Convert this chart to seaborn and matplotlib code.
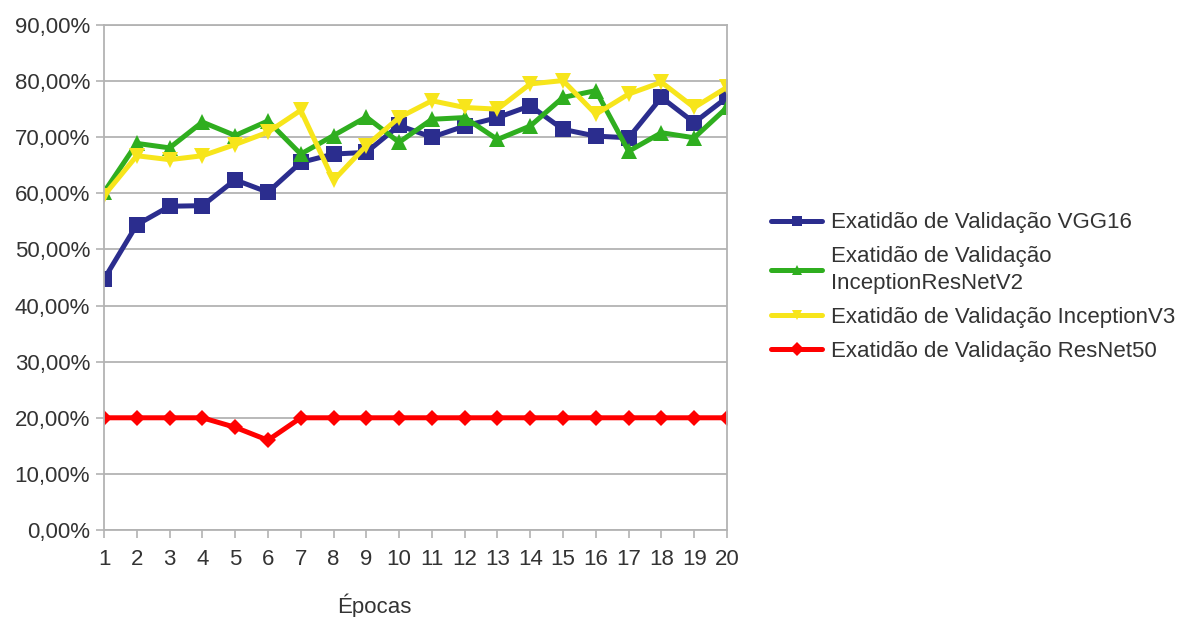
import matplotlib
matplotlib.use("Agg")
import matplotlib.pyplot as plt
import numpy as np
import pandas as pd
import seaborn as sns
from matplotlib.ticker import FuncFormatter, MultipleLocator

# Validation accuracy (%) per epoch for each network
epochs = list(range(1, 21))
vgg16 = [44.7, 54.4, 57.7, 57.8, 62.4, 60.2, 65.5, 67.0, 67.3, 72.1,
         70.0, 72.0, 73.5, 75.6, 71.4, 70.2, 69.9, 77.1, 72.6, 77.1]
inception_resnet_v2 = [60.2, 68.9, 68.1, 72.7, 70.3, 72.9, 67.0, 70.3, 73.6, 69.1,
                       73.2, 73.5, 69.6, 72.0, 77.1, 78.3, 67.5, 70.8, 69.9, 75.3]
inception_v3 = [59.6, 66.7, 66.0, 66.7, 68.7, 70.9, 74.8, 62.3, 68.5, 73.5,
                76.5, 75.3, 75.0, 79.5, 80.1, 74.1, 77.7, 79.8, 75.3, 78.9]
resnet50 = [20.0, 20.0, 20.0, 20.0, 18.3, 16.0, 20.0, 20.0, 20.0, 20.0,
            20.0, 20.0, 20.0, 20.0, 20.0, 20.0, 20.0, 20.0, 20.0, 20.0]

series_names = [
    "Exatidão de Validação VGG16",
    "Exatidão de Validação\nInceptionResNetV2",
    "Exatidão de Validação InceptionV3",
    "Exatidão de Validação ResNet50",
]
series_values = [vgg16, inception_resnet_v2, inception_v3, resnet50]
colors = ["#2b2d8e", "#2fae1f", "#f7e51b", "#ff0000"]
marker_shapes = ["s", "^", "v", "D"]

df = pd.DataFrame({
    "Época": np.tile(epochs, len(series_names)),
    "Exatidão": np.concatenate(series_values),
    "Modelo": np.repeat(series_names, len(epochs)),
})

sns.set_theme(style="white")
plt.rcParams["font.family"] = ["Liberation Sans", "DejaVu Sans"]

fig = plt.figure(figsize=(11.82, 6.17), dpi=100)
ax = fig.add_axes([104 / 1182, 1 - 530 / 617, 623 / 1182, 505 / 617])

sns.lineplot(
    data=df, x="Época", y="Exatidão", hue="Modelo", style="Modelo",
    hue_order=series_names, style_order=series_names,
    palette=dict(zip(series_names, colors)),
    markers=dict(zip(series_names, marker_shapes)),
    dashes=False, linewidth=3.6, markersize=12, markeredgewidth=0,
    ax=ax,
)

# Smaller diamonds for ResNet50
for line in ax.lines:
    if line.get_marker() == "D":
        line.set_markersize(8.5)

ax.set_xlim(1, 20)
ax.set_ylim(0, 90)
ax.set_xticks(epochs)
ax.yaxis.set_major_locator(MultipleLocator(10))
ax.yaxis.set_major_formatter(FuncFormatter(lambda v, _: f"{v:.2f}%".replace(".", ",")))

grid_col = "#b3b3b3"
ax.grid(axis="y", color=grid_col, linewidth=1.3)
ax.grid(axis="x", visible=False)
ax.set_axisbelow(True)
for side in ["left", "bottom", "right", "top"]:
    ax.spines[side].set_visible(True)
    ax.spines[side].set_color(grid_col)
    ax.spines[side].set_linewidth(1.3)

ax.tick_params(axis="y", which="major", direction="out", length=6, width=1.2,
               color=grid_col, labelsize=16, labelcolor="#333333", pad=4, left=True)
ax.tick_params(axis="x", which="major", direction="out", length=6, width=1.2,
               color=grid_col, labelsize=16, labelcolor="#333333", pad=8, bottom=True)

ax.set_ylabel("")
ax.set_xlabel("Épocas", fontsize=16, color="#333333")
ax.xaxis.set_label_coords(270 / 623, -0.125)

handles, labels = ax.get_legend_handles_labels()
ax.get_legend().remove()
leg = fig.legend(
    handles, labels, loc="center left",
    bbox_to_anchor=(771 / 1182, 1 - 287 / 617),
    frameon=False, fontsize=16, handlelength=2.3, handletextpad=0.4,
    labelspacing=0.58, borderaxespad=0, borderpad=0,
)
for txt in leg.get_texts():
    txt.set_color("#333333")
    txt.set_linespacing(1.35)
for h in leg.legend_handles:
    h.set_markersize(7)

fig.savefig("out.png", dpi=100)
